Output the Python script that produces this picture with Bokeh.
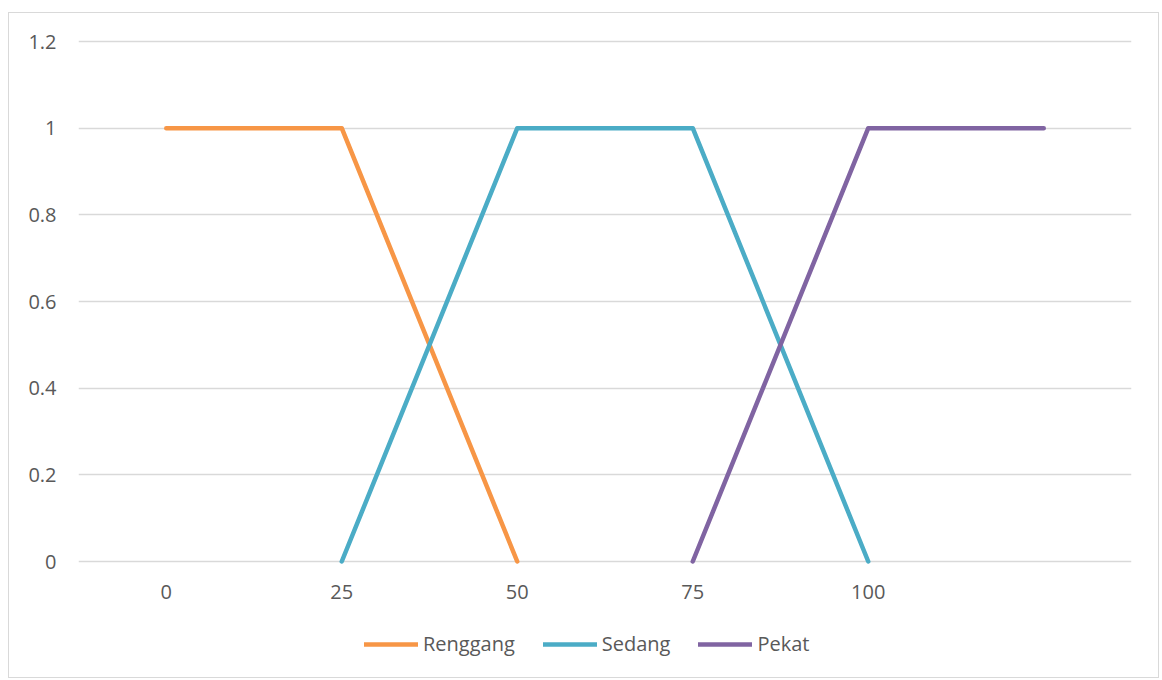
import math
from bokeh.plotting import figure
from bokeh.models import FixedTicker, Legend, LegendItem
from bokeh.embed import file_html
from bokeh.resources import INLINE

# ---- data ----
categories = ["0", "25", "50", "75", "100", ""]
renggang = [1, 1, 0, math.nan, math.nan, math.nan]
sedang = [math.nan, 0, 1, 1, 0, math.nan]
pekat = [math.nan, math.nan, math.nan, 0, 1, 1]
y_ticks = [0, 0.2, 0.4, 0.6, 0.8, 1.0, 1.2]
y_labels = ["0", "0.2", "0.4", "0.6", "0.8", "1", "1.2"]

series_names = ["Renggang", "Sedang", "Pekat"]
series_colors = ["#F79646", "#4BACC6", "#8064A2"]

FONT = "Open Sans"
TXT = "#595959"
GRID = "#D9D9D9"

xs = list(range(len(categories)))

p = figure(width=1151, height=666, output_backend="svg", toolbar_location=None,
           x_range=(-0.5, len(categories) - 0.5), y_range=(-0.2492, 1.23),
           min_border_left=69, min_border_right=29, min_border_top=15, min_border_bottom=10)
p.styles = {"border": "1px solid #D9D9D9", "margin-left": "8px", "margin-top": "12px"}
p.outline_line_color = None
p.background_fill_color = "white"
p.border_fill_color = "white"

# axes
p.xaxis.ticker = FixedTicker(ticks=xs)
p.xaxis.major_label_overrides = {i: c for i, c in enumerate(categories)}
p.xaxis.fixed_location = 0
p.yaxis.ticker = FixedTicker(ticks=y_ticks)
p.yaxis.major_label_overrides = {t: l for t, l in zip(y_ticks, y_labels)}
for ax in (p.xaxis, p.yaxis):
    ax.axis_line_color = None
    ax.major_tick_line_color = None
    ax.minor_tick_line_color = None
    ax.major_label_text_font = FONT
    ax.major_label_text_font_size = "20px"
    ax.major_label_text_color = TXT
p.yaxis.major_label_standoff = 16
p.xaxis.major_label_standoff = 17

p.xgrid.grid_line_color = None
p.ygrid.ticker = FixedTicker(ticks=y_ticks)
p.ygrid.grid_line_color = GRID
p.ygrid.grid_line_width = 1.3

items = []
for name, vals, col in zip(series_names, [renggang, sedang, pekat], series_colors):
    r = p.line(xs, vals, line_color=col, line_width=4.5, line_cap="round", line_join="round")
    items.append(LegendItem(label=name, renderers=[r]))

legend = Legend(items=items, orientation="horizontal", location=(286, 12),
                glyph_width=54, glyph_height=24, label_height=24, label_standoff=5, spacing=28,
                padding=0, margin=0, border_line_color=None, background_fill_alpha=0,
                label_text_font=FONT, label_text_font_size="20px", label_text_color=TXT)
p.add_layout(legend, "center")

open("out.html", "w").write(file_html(p, INLINE))
